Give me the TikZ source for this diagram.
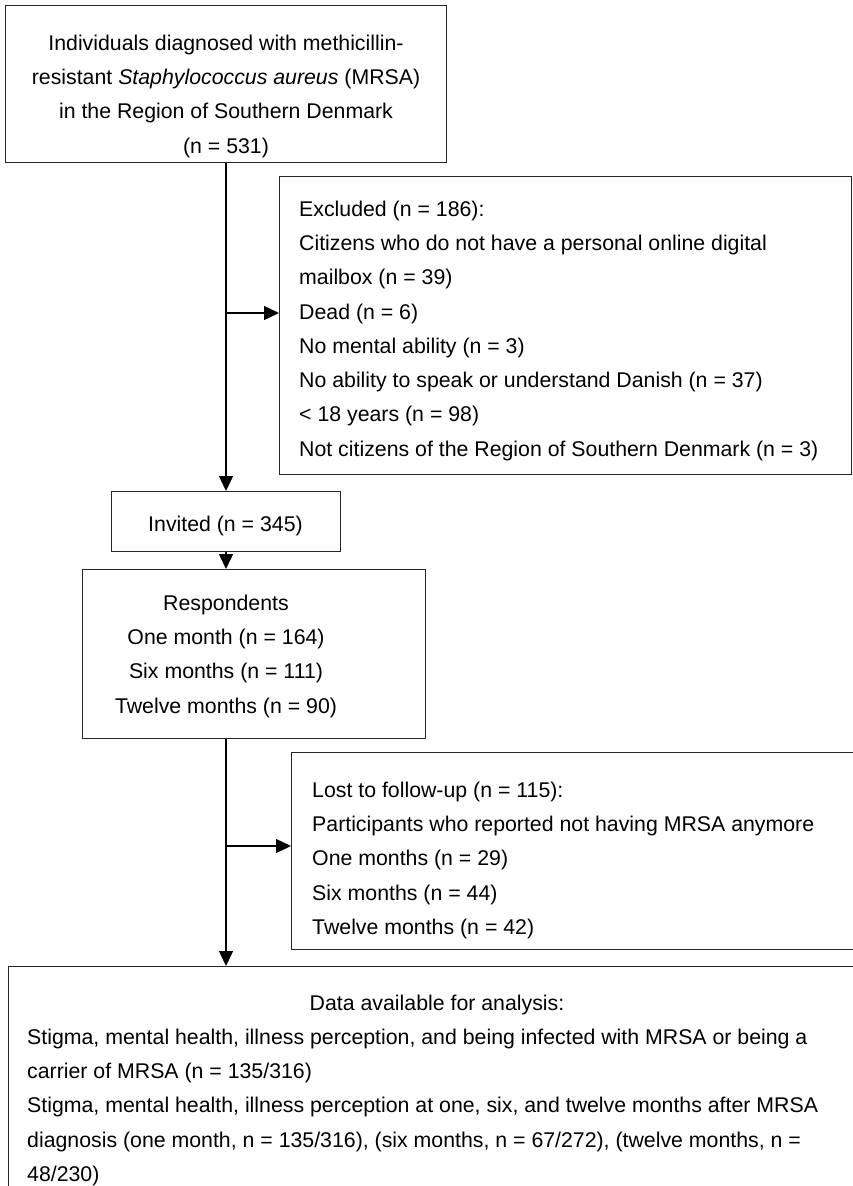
\documentclass[tikz,border=0pt]{standalone}
\usepackage{fontspec}
\setmainfont{Liberation Sans}
\usetikzlibrary{arrows.meta}
\newcommand{\flowfont}{\fontsize{21.3}{34.3}\selectfont}
\begin{document}
\begin{tikzpicture}[x=1pt, y=1pt,
    box/.style={draw=black!85, line width=1pt, inner sep=0pt, anchor=north west},
    txt/.style={inner sep=0pt, font=\flowfont},
    arr/.style={line width=1.4pt, -{Triangle[width=14pt,length=15pt]}}]
    \useasboundingbox (0,0) rectangle (853,-1186);
    \clip (0,0) rectangle (853,-1186);
    % Boxes
    \node[box, minimum width=441, minimum height=157] (start) at (5,-5) {};
    \node[box, minimum width=572, minimum height=298] (excl) at (279,-176) {};
    \node[box, minimum width=229, minimum height=60] (inv) at (111,-491) {};
    \node[box, minimum width=343, minimum height=169] (resp) at (82,-569) {};
    \node[box, minimum width=580, minimum height=197] (lost) at (291,-752) {};
    \node[box, minimum width=860, minimum height=260] (data) at (8,-966) {};
    % Texts
    \node[txt, align=center, anchor=north] (starttxt) at (226,-34.5)
        {Individuals diagnosed with methicillin-\\
         resistant \textit{Staphylococcus aureus} (MRSA)\\
         in the Region of Southern Denmark\\
         (n = 531)};
    \node[txt, align=left, anchor=north west] (excltxt) at (299,-200.5)
        {Excluded (n = 186):\\
         Citizens who do not have a personal online digital\\
         mailbox (n = 39)\\
         Dead (n = 6)\\
         No mental ability (n = 3)\\
         No ability to speak or understand Danish (n = 37)\\
         < 18 years (n = 98)\\
         Not citizens of the Region of Southern Denmark (n = 3)};
    \node[txt] (invtxt) at (225.5,-526) {Invited (n = 345)};
    \node[txt, align=center, anchor=north] (resptxt) at (226,-594.5)
        {Respondents\\
         One month (n = 164)\\
         Six months (n = 111)\\
         Twelve months (n = 90)};
    \node[txt, align=left, anchor=north west] (losttxt) at (312,-781.5)
        {Lost to follow-up (n = 115):\\
         Participants who reported not having MRSA anymore\\
         One months (n = 29)\\
         Six months (n = 44)\\
         Twelve months (n = 42)};
    \node[txt, anchor=north] (datatitle) at (437,-994.5) {Data available for analysis:};
    \node[txt, align=left, anchor=north west] (datatxt) at (27,-1028.5)
        {Stigma, mental health, illness perception, and being infected with MRSA or being a\\
         carrier of MRSA (n = 135/316)\\
         Stigma, mental health, illness perception at one, six, and twelve months after MRSA\\
         diagnosis (one month, n = 135/316), (six months, n = 67/272), (twelve months, n =\\
         48/230)};
    % Arrows
    \coordinate (split1) at (225.5,-313);
    \coordinate (split2) at (225.5,-846);
    \draw[arr] (start.south) -- (inv.north);
    \draw[arr] (split1) -- (split1 -| excl.west);
    \draw[arr] (inv.south) -- (inv.south |- resp.north);
    \draw[arr] (inv.south |- resp.south) -- (inv.south |- data.north);
    \draw[arr] (split2) -- (split2 -| lost.west);
\end{tikzpicture}
\end{document}
